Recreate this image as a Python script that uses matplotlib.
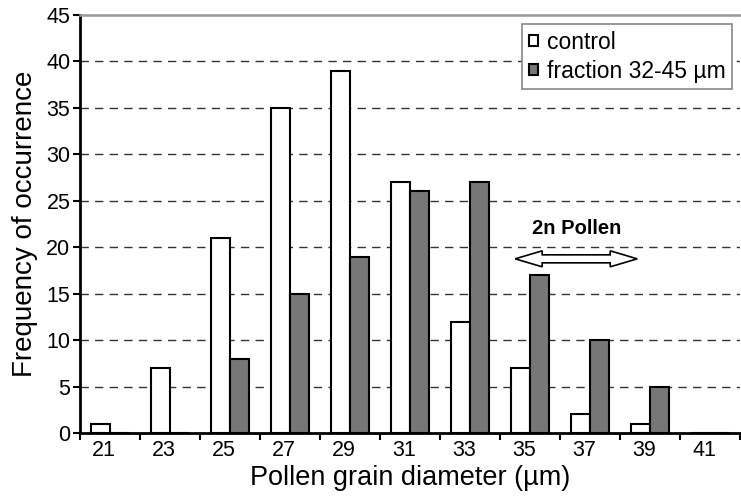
import numpy as np
import matplotlib.pyplot as plt
from matplotlib.patches import Polygon
from matplotlib.transforms import ScaledTranslation

plt.rcParams['font.family'] = ['Liberation Sans', 'DejaVu Sans']

diameters = ['21', '23', '25', '27', '29', '31', '33', '35', '37', '39', '41']
control = [1, 7, 21, 35, 39, 27, 12, 7, 2, 1, 0]
fraction = [0, 0, 8, 15, 19, 26, 27, 17, 10, 5, 0]

fig = plt.figure(figsize=(7.41, 4.99), dpi=100)
ax = fig.add_axes([80 / 741, 1 - 433 / 499, 660 / 741, 418 / 499])

x = np.arange(len(diameters))
w = 0.31
ax.bar(x - w / 2, control, w, color='white', edgecolor='black', linewidth=1.5,
       label='control', zorder=3)
ax.bar(x + w / 2, fraction, w, color='#777777', edgecolor='black', linewidth=1.5,
       label='fraction 32-45 µm', zorder=3)

ax.set_xlim(-0.5, len(diameters) - 0.5)
ax.set_ylim(0, 45)
ax.set_yticks(range(0, 46, 5))
ax.set_xticks(x - 0.1)
ax.set_xticklabels(diameters)
ax.set_xticks(np.arange(-0.5, len(diameters), 1), minor=True)
ax.tick_params(axis='x', which='major', length=0, labelsize=15.5, pad=5)
ax.tick_params(axis='x', which='minor', length=5, width=1.5, direction='out')
ax.tick_params(axis='y', length=5, width=1.5, labelsize=15.5, pad=2)

for yv in range(5, 45, 5):
    ax.axhline(yv, color='#333333', linestyle=(0, (6, 4.5)), linewidth=1.0, zorder=1)

ax.spines['left'].set_linewidth(2)
ax.spines['bottom'].set_linewidth(2)
ax.spines['right'].set_visible(False)
ax.spines['top'].set_color('#999999')
ax.spines['top'].set_linewidth(1.8)

ax.set_xlabel('Pollen grain diameter (µm)', fontsize=19.5, labelpad=3)
ax.set_ylabel('Frequency of occurrence', fontsize=20, labelpad=6)

leg = fig.legend(loc='upper left', bbox_to_anchor=(522 / 741, 1 - 24 / 499), fontsize=16.5,
                 frameon=True, fancybox=False, handlelength=0.38, handleheight=0.38,
                 handletextpad=0.4, borderpad=0.3, labelspacing=0.25,
                 borderaxespad=0)
leg.get_frame().set_edgecolor('#888888')
leg.get_frame().set_linewidth(1.2)
leg.get_frame().set_alpha(1)

# "2n Pollen" annotation with hollow double arrow
ax.text(7.77, 22.0, '2n Pollen', ha='center', va='center', fontsize=14.5, fontweight='bold')
half, head, sh, hh = 0.61, 0.27, 0.04, 0.08  # inches
arrow_pts = [(-half, 0), (-half + head, hh), (-half + head, sh), (half - head, sh),
             (half - head, hh), (half, 0), (half - head, -hh), (half - head, -sh),
             (-half + head, -sh), (-half + head, -hh)]
trans = fig.dpi_scale_trans + ScaledTranslation(7.77, 18.75, ax.transData)
ax.add_patch(Polygon(arrow_pts, closed=True, transform=trans, fc='white', ec='black',
                     lw=1.2, zorder=4, clip_on=False))

fig.savefig('out.png', dpi=100)
